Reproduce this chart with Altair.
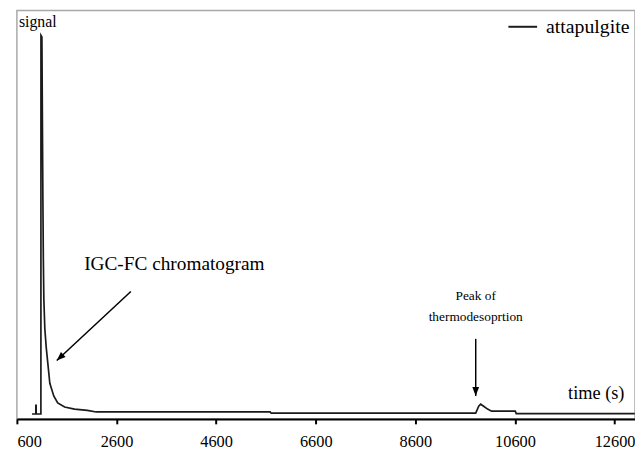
import altair as alt
import pandas as pd

# ---- data ----
time_s = [904, 980, 981, 986, 987, 1082, 1083, 1102, 1112, 1122, 1131, 1141, 1161,
          1191, 1221, 1261, 1340, 1419, 1558, 1757, 2015, 2193, 5685, 5705, 9812,
          9872, 9911, 9971, 10050, 10130, 10606, 10626, 13006]
signal = [1.2, 1.2, 3.3, 3.3, 1.2, 1.2, 93.9, 93.5, 72.9, 53.5, 39.0, 29.3, 22.0,
          17.2, 13.6, 8.7, 5.6, 3.9, 2.9, 2.4, 2.1, 1.7, 1.7, 1.4, 1.4,
          3.1, 3.6, 3.1, 2.4, 1.9, 1.9, 1.3, 1.3]
series_name = "attapulgite"
x_ticks = [600, 2600, 4600, 6600, 8600, 10600, 12600]

# annotations (data coordinates)
lab_text = ["IGC-FC chromatogram", "Peak of", "thermodesoprtion", "time (s)"]
lab_t = [3761, 9812, 9812, 12232]
lab_s = [37.8, 30.0, 24.9, 6.3]
lab_size = [19.5, 13.5, 13.5, 18.5]

sig_text = ["signal"]
sig_t = [640]
sig_s = [97.1]

arr_t1 = [2888, 9812]
arr_s1 = [31.2, 19.6]
arr_t2 = [1400, 9812]
arr_s2 = [14.3, 5.6]
arr_angle = [47, 0]

FONT = "Liberation Serif"

df = pd.DataFrame({"time": time_s, "signal": signal, "series": series_name})
labs = pd.DataFrame({"t": lab_t, "s": lab_s, "text": lab_text, "fs": lab_size})
sig = pd.DataFrame({"t": sig_t, "s": sig_s, "text": sig_text})
arrows = pd.DataFrame({"t1": arr_t1, "s1": arr_s1, "t2": arr_t2, "s2": arr_s2, "ang": arr_angle})

x_scale = alt.Scale(domain=[600, 13010], nice=False, zero=False)
y_scale = alt.Scale(domain=[0, 100], nice=False, zero=True)

line = alt.Chart(df).mark_line(strokeWidth=1.7).encode(
    x=alt.X("time:Q", scale=x_scale,
            axis=alt.Axis(values=x_ticks, format="d", title=None, grid=False,
                          labelFont=FONT, labelFontSize=16.5, labelColor="black",
                          labelPadding=10, tickSize=5, tickWidth=2, tickColor="black",
                          domainColor="black", domainWidth=2)),
    y=alt.Y("signal:Q", scale=y_scale, axis=None),
    color=alt.Color("series:N", scale=alt.Scale(range=["#1a1a1a"]),
                    legend=alt.Legend(title=None, orient="none", legendX=496, legendY=1,
                                      symbolType="stroke", symbolSize=841,
                                      symbolStrokeWidth=2, labelFont=FONT,
                                      labelFontSize=20, labelColor="black",
                                      labelOffset=8, padding=0)),
)

labels = alt.Chart(labs).mark_text(font=FONT, color="black", align="center",
                                   baseline="middle").encode(
    x=alt.X("t:Q", scale=x_scale),
    y=alt.Y("s:Q", scale=y_scale),
    text="text:N",
    size=alt.Size("fs:Q", scale=None, legend=None),
)

sig_label = alt.Chart(sig).mark_text(font=FONT, color="black", align="left",
                                     baseline="middle", fontSize=16).encode(
    x=alt.X("t:Q", scale=x_scale),
    y=alt.Y("s:Q", scale=y_scale),
    text="text:N",
)

shafts = alt.Chart(arrows).mark_rule(color="black", strokeWidth=1.5).encode(
    x=alt.X("t1:Q", scale=x_scale),
    y=alt.Y("s1:Q", scale=y_scale),
    x2="t2:Q",
    y2="s2:Q",
)

heads = alt.Chart(arrows).mark_point(filled=True, color="black", opacity=1,
                                     shape="M0,0L-0.38,-1L0.38,-1Z", size=324).encode(
    x=alt.X("t2:Q", scale=x_scale),
    y=alt.Y("s2:Q", scale=y_scale),
    angle=alt.Angle("ang:Q", scale=None),
)

chart = alt.layer(line, shafts, heads, labels, sig_label).properties(
    width=625, height=413,
    padding={"left": 9, "top": 0, "right": 0, "bottom": 32},
    autosize=alt.AutoSizeParams(type="none"),
).configure_view(
    stroke="#a8a8a8", strokeWidth=1.5
)

chart.save("out.html", embed_options={"renderer": "svg", "actions": False})
